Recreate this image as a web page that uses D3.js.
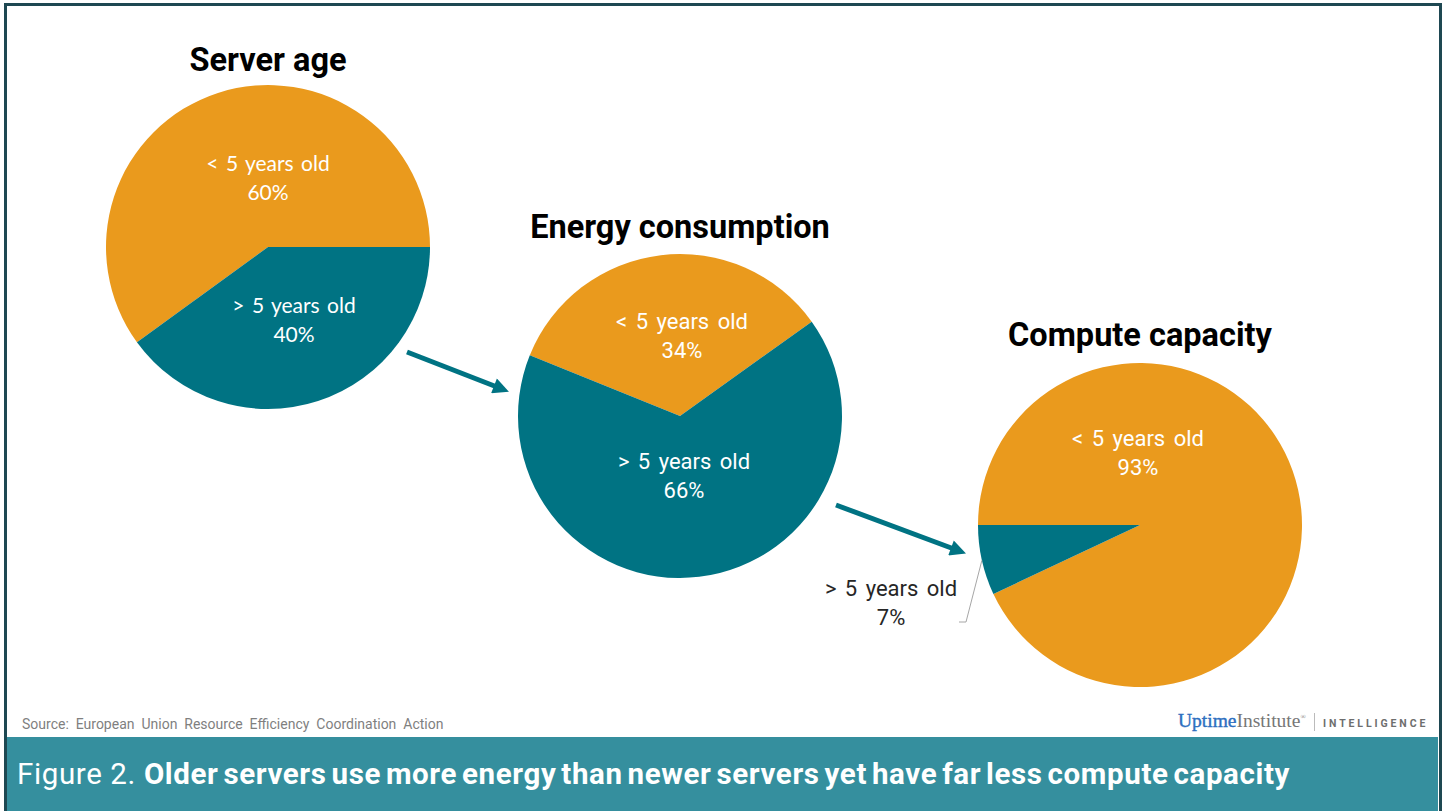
<!DOCTYPE html>
<html>
<head>
<meta charset="utf-8">
<script src="https://cdn.jsdelivr.net/npm/d3@7"></script>
<style>
  body { margin: 0; background: #fff; }
  svg { display: block; }
</style>
</head>
<body>
<svg id="chart" width="1445" height="811"></svg>
<script>
// data
var pieTitles = ['Server age', 'Energy consumption', 'Compute capacity'];
var categories = ['< 5 years old', '> 5 years old'];
var newerShare = [60, 34, 93];
var olderShare = [40, 66, 7];
var sourceText = 'Source:  European  Union  Resource  Efficiency  Coordination  Action';

var width = 1445;
var height = 811;
var orange = '#EA9A1D';
var teal = '#007383';
var radius = 162;

// layout of each pie (centre, first slice angle in degrees, label offsets)
var pies = [
  { cx: 268, cy: 247, start: 234, titleY: 71, labelFont: 'Lato', labelSize: 21, wordSp: 2,
    labels: [{ dx: 0, dy: -76 }, { dx: 26, dy: 66 }] },
  { cx: 680, cy: 416, start: -68, titleY: 238, labelFont: 'Roboto', labelSize: 22, wordSp: 3,
    labels: [{ dx: 2, dy: -87 }, { dx: 4, dy: 53 }] },
  { cx: 1140, cy: 525, start: 270, titleY: 346, labelFont: 'Roboto', labelSize: 22, wordSp: 3,
    labels: [{ dx: -2, dy: -79 }, null] }
];

var svg = d3.select('#chart');

// frame
svg.append('rect')
  .attr('x', 5.5).attr('y', 4.5)
  .attr('width', width - 10).attr('height', height)
  .attr('fill', '#fff')
  .attr('stroke', '#1E4852')
  .attr('stroke-width', 3);

var color = d3.scaleOrdinal().domain(categories).range([orange, teal]);
var arc = d3.arc().innerRadius(0).outerRadius(radius);
var rimArc = d3.arc().innerRadius(radius).outerRadius(radius);

pies.forEach(function (p, i) {
  var rows = [
    { cat: categories[0], value: newerShare[i] },
    { cat: categories[1], value: olderShare[i] }
  ];
  var pie = d3.pie()
    .sort(null)
    .value(function (d) { return d.value; })
    .startAngle(p.start * Math.PI / 180)
    .endAngle((p.start + 360) * Math.PI / 180);
  var arcs = pie(rows);

  var g = svg.append('g')
    .attr('transform', 'translate(' + p.cx + ',' + p.cy + ')');

  g.selectAll('path')
    .data(arcs)
    .enter()
    .append('path')
    .attr('d', arc)
    .attr('fill', function (d) { return color(d.data.cat); });

  svg.append('text')
    .attr('x', p.cx)
    .attr('y', p.titleY)
    .attr('text-anchor', 'middle')
    .attr('font-family', 'Roboto')
    .attr('font-weight', 'bold')
    .attr('font-size', 32.5)
    .attr('fill', '#000')
    .text(pieTitles[i]);

  arcs.forEach(function (d, j) {
    var lab = p.labels[j];
    if (!lab) return;
    var t = g.append('text')
      .attr('text-anchor', 'middle')
      .attr('font-family', p.labelFont)
      .attr('font-size', p.labelSize)
      .attr('word-spacing', p.wordSp)
      .attr('fill', '#fff');
    t.append('tspan').attr('x', lab.dx).attr('y', lab.dy).text(d.data.cat);
    t.append('tspan').attr('x', lab.dx).attr('y', lab.dy + 29).text(d.data.value + '%');
  });

  // small slice gets its label outside with a leader line
  if (!p.labels[1]) {
    var d = arcs[1];
    var rim = rimArc.centroid(d);
    var elbow = [-174, 97];
    g.append('polyline')
      .attr('points', [rim, elbow, [elbow[0] - 7, elbow[1]]].map(function (q) { return q.join(','); }).join(' '))
      .attr('fill', 'none')
      .attr('stroke', '#A6A6A6')
      .attr('stroke-width', 1);
    var t2 = g.append('text')
      .attr('text-anchor', 'middle')
      .attr('font-family', 'Roboto')
      .attr('font-size', 22)
      .attr('word-spacing', 3)
      .attr('fill', '#262626');
    t2.append('tspan').attr('x', -249).attr('y', 71).text(d.data.cat);
    t2.append('tspan').attr('x', -249).attr('y', 100).text(d.data.value + '%');
  }
});

// arrows between the pies
var defs = svg.append('defs');
defs.append('marker')
  .attr('id', 'head')
  .attr('viewBox', '0 0 10 10')
  .attr('refX', 2).attr('refY', 5)
  .attr('markerWidth', 3.6).attr('markerHeight', 3.2)
  .attr('orient', 'auto')
  .append('path')
  .attr('d', 'M0,0 L10,5 L0,10 Z')
  .attr('fill', teal);

var arrows = [[[407, 352], [497, 387]], [[836, 505], [954, 549]]];
svg.selectAll('line.arrow')
  .data(arrows)
  .enter()
  .append('line')
  .attr('class', 'arrow')
  .attr('x1', function (d) { return d[0][0]; })
  .attr('y1', function (d) { return d[0][1]; })
  .attr('x2', function (d) { return d[1][0]; })
  .attr('y2', function (d) { return d[1][1]; })
  .attr('stroke', teal)
  .attr('stroke-width', 5)
  .attr('marker-end', 'url(#head)');

// source + logo
svg.append('text')
  .attr('x', 22).attr('y', 729)
  .attr('font-family', 'Roboto')
  .attr('font-size', 14)
  .attr('fill', '#7F7F7F')
  .attr('xml:space', 'preserve')
  .style('white-space', 'pre')
  .text(sourceText);

var logo = svg.append('text')
  .attr('x', 1178).attr('y', 727)
  .attr('font-family', 'Liberation Serif')
  .attr('font-size', 19.5);
logo.append('tspan').attr('fill', '#2D6FBF').attr('stroke', '#2D6FBF').attr('stroke-width', 0.4).text('Uptime');
logo.append('tspan').attr('fill', '#777').text('Institute');
logo.append('tspan').attr('fill', '#777').attr('font-size', 7).attr('dy', -8).text('®');

svg.append('line')
  .attr('x1', 1314.5).attr('x2', 1314.5)
  .attr('y1', 713).attr('y2', 731)
  .attr('stroke', '#bbb');

svg.append('text')
  .attr('x', 1323).attr('y', 727)
  .attr('font-family', 'Roboto')
  .attr('font-weight', 'bold')
  .attr('font-size', 10.5)
  .attr('letter-spacing', 2.9)
  .attr('fill', '#6E6E6E')
  .text('INTELLIGENCE');

// caption banner
svg.append('rect')
  .attr('x', 7).attr('y', 737)
  .attr('width', width - 14).attr('height', height - 737)
  .attr('fill', '#358F9E');

var cap = svg.append('text')
  .attr('x', 17).attr('y', 784)
  .attr('font-family', 'Roboto')
  .attr('font-size', 29.5)
  .attr('fill', '#fff');
cap.append('tspan').text('Figure 2. ');
cap.append('tspan').attr('font-weight', 'bold').attr('word-spacing', -3)
  .text('Older servers use more energy than newer servers yet have far less compute capacity');

// fit the caption to the width it has in the figure
var capEnd = 1290;
var capLen = cap.node().getComputedTextLength();
var nChars = cap.text().length;
cap.attr('letter-spacing', ((capEnd - 17) - capLen) / nChars);
</script>
</body>
</html>
